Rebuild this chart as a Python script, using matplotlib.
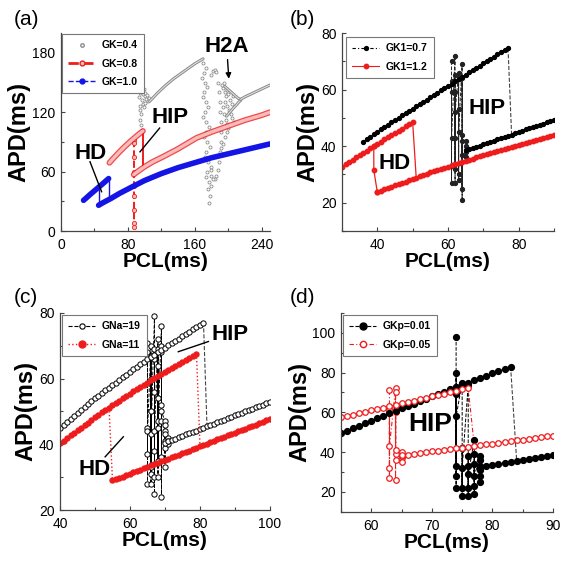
import numpy as np
import matplotlib
matplotlib.use("Agg")
import matplotlib.pyplot as plt
from matplotlib.lines import Line2D
from matplotlib.ticker import MultipleLocator
from matplotlib import font_manager

_have = {f.name for f in font_manager.fontManager.ttflist}
NARROW = 'Liberation Sans Narrow' if 'Liberation Sans Narrow' in _have else 'Liberation Sans'
plt.rcParams['font.family'] = [NARROW, 'DejaVu Sans']

RED = '#ee1c1c'
PINK = '#f6bcbc'
BLUE = '#1414e6'
GREY = '#8c8c8c'

# ---------------- (a) GK ----------------
a_gk10_up_x = [27, 30, 35, 40, 45, 50, 55, 57]
a_gk10_up_y = [31, 33.2, 37, 40.6, 44.2, 47.8, 51.5, 53]
a_gk10_lo_x = [45, 50, 60, 70, 86, 100, 120, 140, 160, 180, 200, 220, 240, 250]
a_gk10_lo_y = [26, 28.5, 33, 38, 45, 51, 58, 64, 69, 74, 78, 82, 86, 88]
a_gk10_jump1 = ([45, 45], [26, 44.2])
a_gk10_jump2 = ([57, 57], [53, 32])

a_gk08_up_x = [58, 62, 66, 70, 75, 80, 85, 90, 94, 98]
a_gk08_up_y = [69, 72.8, 76.4, 80, 84.2, 88.2, 92, 95.6, 98.4, 101]
a_gk08_lo_x = [87, 90, 95, 100, 110, 122, 140, 162, 180, 200, 220, 240, 250]
a_gk08_lo_y = [57, 59, 62, 65, 70, 75, 83, 94, 100, 106, 112, 117, 120]
a_gk08_drop = ([98, 98], [101, 64])
a_gk08_alt_x = [87, 87, 87, 87, 87, 87, 87, 87, 87]
a_gk08_alt_y = [92, 88.5, 75, 60, 45, 35, 21, 8, 4]

a_gk04_up_x = [106, 110, 115, 120, 125, 130, 135, 140, 145, 150, 155, 160, 165, 170]
a_gk04_up_y = [131, 134.5, 139, 143, 147, 150.5, 154, 157, 160, 163, 166, 169, 171.5, 174]
a_gk04_fa_x = [196, 200, 204, 208, 212, 215]
a_gk04_fa_y = [146, 143, 140, 137, 134, 133]
a_gk04_fb_x = [198, 202, 206, 210, 213, 215]
a_gk04_fb_y = [116, 120, 124, 127.5, 130.5, 132]
a_gk04_tail_x = [215, 220, 225, 230, 235, 240, 245, 250]
a_gk04_tail_y = [133, 135.5, 137.5, 139.5, 141.5, 143.5, 145.5, 147.5]
a_gk04_sc_x = [93, 94, 95, 96, 97, 98, 99, 100, 101, 102, 103, 104, 105, 94, 95, 96, 95, 96, 97, 98,
               97, 99, 100, 94, 93,
               170, 171, 172, 171, 173, 172, 174, 173, 175, 174, 176, 175, 177, 176, 178, 177, 174,
               175, 176, 177, 178, 179, 179, 173, 172, 171, 170, 170, 169,
               180, 182, 184, 186, 188, 189, 190, 190, 191, 191, 191, 190, 189, 188, 186, 184, 182,
               180, 179,
               193, 194, 195, 196, 197, 196, 198, 199, 200, 201, 202, 203, 204, 205, 206, 207, 194,
               195, 197, 199, 200, 198, 196, 194, 192]
a_gk04_sc_y = [148, 150, 145, 141, 147, 138, 143, 136, 139, 133, 137, 131, 134, 126, 122, 118, 112, 107, 102, 128,
               132, 125, 129, 139, 135,
               170, 160, 150, 140, 130, 120, 110, 100, 90, 80, 70, 60, 50, 42, 35, 28, 165,
               145, 125, 105, 85, 65, 45, 55, 75, 95, 115, 135, 155,
               158, 162, 163, 161, 150, 140, 130, 120, 110, 100, 90, 80, 70, 62, 56, 53, 53,
               56, 62,
               148, 144, 150, 140, 136, 130, 142, 126, 138, 122, 132, 118, 128, 114, 136, 110, 125,
               118, 112, 108, 104, 100, 95, 88, 84]

# ---------------- (b) GK1 ----------------
b_k07_up_x = list(range(36, 78))
b_k07_up_y = [41.5, 42.4, 43.3, 44.2, 45.0, 45.9, 46.7, 47.6, 48.4, 49.2, 50.0, 50.9, 51.7, 52.5,
              53.3, 54.1, 54.9, 55.7, 56.5, 57.3, 58.1, 58.9, 59.7, 60.5, 61.3, 62.1, 62.9, 63.7,
              64.5, 65.3, 66.1, 66.9, 67.7, 68.5, 69.3, 70.1, 70.9, 71.7, 72.5, 73.2, 73.9, 74.6]
b_k07_lo_x = list(range(65, 91))
b_k07_lo_y = [38.5, 38.9, 39.4, 39.8, 40.2, 40.7, 41.1, 41.5, 42.0, 42.4, 42.8, 43.3, 43.7,
              44.1, 44.6, 45.0, 45.4, 45.9, 46.3, 46.7, 47.2, 47.6, 48.0, 48.5, 48.9, 49.3]
b_k07_jump = ([77, 78], [74.6, 44.1])
b_k07_ch_x = [61, 61, 61, 61, 61, 61, 62, 62, 62, 62, 62, 62, 62, 63, 63, 63, 63, 63, 63,
              64, 64, 64, 64, 64, 64, 64, 65, 65, 65, 65]
b_k07_ch_y = [70, 27, 63, 33, 59, 43, 72, 27, 65, 32, 59, 43, 52, 66, 28, 64, 30, 53, 45,
              69, 21, 64, 25, 44, 37, 42, 42, 36, 40, 38]

b_k12_up_x = list(range(30, 51))
b_k12_up_y = [32.8, 33.6, 34.4, 35.2, 36.0, 36.8, 37.6, 38.4, 39.2, 40.0, 40.8, 41.6, 42.4,
              43.1, 43.9, 44.7, 45.5, 46.2, 47.0, 47.8, 48.5]
b_k12_lo_x = list(range(40, 91))
b_k12_lo_y = [23.7, 24.2, 24.7, 25.2, 25.6, 26.1, 26.6, 27.0, 27.5, 28.0, 28.4, 28.9, 29.3,
              29.8, 30.2, 30.7, 31.1, 31.5, 32.0, 32.4, 32.8, 33.2, 33.6, 34.0, 34.4, 34.8,
              35.2, 35.6, 36.0, 36.4, 36.8, 37.2, 37.6, 37.9, 38.3, 38.7, 39.0, 39.4, 39.8,
              40.1, 40.5, 40.8, 41.2, 41.5, 41.9, 42.2, 42.6, 42.9, 43.3, 43.6, 44.0]
b_k12_jump1 = ([39, 39, 40], [40.0, 31.6, 23.7])
b_k12_jump2 = ([50, 51], [48.5, 28.9])

# ---------------- (c) GNa ----------------
c_na19_up_x = list(range(40, 82))
c_na19_up_y = [45.0, 45.9, 46.8, 47.7, 48.6, 49.5, 50.4, 51.3, 52.2, 53.1, 54.0, 54.8, 55.6,
               56.4, 57.2, 58.0, 58.8, 59.6, 60.4, 61.2, 62.0, 62.8, 63.6, 64.4, 65.2, 65.9,
               66.6, 67.3, 68.0, 68.7, 69.4, 70.1, 70.8, 71.5, 72.2, 72.9, 73.6, 74.3, 75.0,
               75.7, 76.4, 77.1]
c_na19_lo_x = list(range(70, 101))
c_na19_lo_y = [40.5, 40.9, 41.3, 41.7, 42.1, 42.6, 43.0, 43.4, 43.8, 44.2, 44.6, 45.0, 45.5,
               45.9, 46.3, 46.7, 47.1, 47.5, 47.9, 48.4, 48.8, 49.2, 49.6, 50.0, 50.4, 50.8,
               51.3, 51.7, 52.1, 52.5, 52.9]
c_na19_jump = ([81, 82], [77.1, 45.5])
c_na19_ch_x = [65] * 6 + [66] * 8 + [67] * 8 + [68] * 8 + [69] * 8 + [70] * 7 + [71] * 3
c_na19_ch_y = [71, 28, 68, 37, 45, 44,
               70, 28, 67, 31, 60, 33, 50, 43,
               79, 25, 69, 30, 66, 38, 56, 44,
               72, 30, 69, 35, 64, 45, 54, 47,
               76, 24, 70, 36, 68, 47, 52, 50,
               47, 33, 46, 39, 44, 43, 41,
               42, 40, 41]

c_na11_up_x = list(range(40, 80))
c_na11_up_y = [40.3, 41.1, 41.9, 42.7, 43.5, 44.3, 45.1, 45.9, 46.6, 47.4, 48.2, 48.9, 49.7,
               50.4, 51.2, 51.9, 52.6, 53.3, 54.0, 54.7, 55.4, 56.1, 56.8, 57.5, 58.2, 58.8,
               59.5, 60.1, 60.8, 61.4, 62.1, 62.7, 63.3, 64.0, 64.6, 65.2, 65.8, 66.4, 67.0,
               67.6]
c_na11_lo_x = list(range(55, 101))
c_na11_lo_y = [29.0, 29.4, 29.8, 30.2, 30.6, 31.1, 31.5, 31.9, 32.3, 32.7, 33.1, 33.6, 34.0,
               34.4, 34.8, 35.2, 35.6, 36.1, 36.5, 36.9, 37.3, 37.7, 38.1, 38.5, 39.0, 39.4,
               39.8, 40.2, 40.6, 41.0, 41.5, 41.9, 42.3, 42.7, 43.1, 43.5, 44.0, 44.4, 44.8,
               45.2, 45.6, 46.0, 46.5, 46.9, 47.3, 47.7]
c_na11_jump1 = ([54, 55], [51.2, 29.0])
c_na11_jump2 = ([79, 80], [67.6, 39.4])

# ---------------- (d) GKp ----------------
d_p01_up_x = list(range(55, 84))
d_p01_up_y = [49.5, 50.8, 52.0, 53.3, 54.5, 55.8, 57.0, 58.3, 59.5, 60.8, 62.0, 63.2, 64.4,
              65.6, 66.8, 68.0, 69.2, 70.3, 71.5, 72.7, 73.8, 75.0, 76.1, 77.3, 78.4, 79.6,
              80.7, 81.9, 83.0]
d_p01_lo_x = list(range(78, 91))
d_p01_lo_y = [32.5, 33.0, 33.5, 34.0, 34.5, 35.0, 35.5, 36.0, 36.5, 37.0, 37.5, 38.0, 38.5]
d_p01_jump = ([83, 84], [83.0, 35.5])
d_p01_ch_x = [74] * 8 + [75] * 5 + [76] * 6 + [77] * 6 + [78] * 6
d_p01_ch_y = [98, 22, 80, 28, 73, 33, 69, 58,
              75, 18, 42, 22, 32,
              74, 18, 38, 22, 33, 29,
              46, 19, 39, 23, 34, 28,
              38, 25, 36, 28, 33, 31]

d_p05_up_x = list(range(55, 77))
d_p05_up_y = [57.5, 58.2, 58.9, 59.6, 60.3, 61.0, 61.7, 62.4, 63.1, 63.8, 64.5, 65.2, 65.9,
              66.6, 67.3, 68.0, 68.7, 69.4, 70.1, 70.8, 71.5, 72.2]
d_p05_lo_x = list(range(65, 91))
d_p05_lo_y = [38.3, 38.7, 39.1, 39.5, 39.9, 40.3, 40.7, 41.1, 41.5, 41.9, 42.3, 42.7, 43.1,
              43.5, 43.9, 44.3, 44.7, 45.1, 45.5, 45.9, 46.3, 46.7, 47.1, 47.5, 47.9, 48.3]
d_p05_jump = ([76, 77], [72.2, 43.1])
d_p05_ch_x = [63] * 6 + [64] * 8 + [65] * 4
d_p05_ch_y = [71, 27, 62, 32, 61, 43,
              72, 26, 70, 36, 63, 39, 60, 41,
              40, 37, 38, 35]


def style(ax, xlim, ylim, xmaj, ymaj):
    ax.set_xlim(*xlim)
    ax.set_ylim(*ylim)
    ax.xaxis.set_major_locator(MultipleLocator(xmaj))
    ax.xaxis.set_minor_locator(MultipleLocator(xmaj / 2))
    ax.yaxis.set_major_locator(MultipleLocator(ymaj))
    ax.yaxis.set_minor_locator(MultipleLocator(ymaj / 2))
    for s in ['top', 'right']:
        ax.spines[s].set_visible(False)
    for s in ['left', 'bottom']:
        ax.spines[s].set_color('#444444')
        ax.spines[s].set_linewidth(0.9)
    ax.tick_params(which='both', direction='in', color='#444444', width=0.8, labelsize=10)
    ax.tick_params(axis='x', pad=5)
    ax.tick_params(axis='y', pad=4)
    ax.tick_params(which='major', length=3)
    ax.tick_params(which='minor', length=2)
    ax.set_xlabel('PCL(ms)', fontsize=15, fontweight='bold', labelpad=0)
    ax.set_ylabel('APD(ms)', fontsize=17, fontweight='bold', labelpad=1)


def legend(ax, handles, pad):
    lg = ax.legend(handles=handles, loc='upper left',
                   prop={'weight': 'bold', 'size': 7.5}, fancybox=False,
                   edgecolor='#777777', framealpha=1, borderaxespad=pad,
                   handlelength=2.6, labelspacing=0.8, borderpad=0.6, handletextpad=0.6)
    lg.get_frame().set_linewidth(0.8)


def word(ax, x, y, s, size=16):
    ax.text(x, y, s, fontsize=size, fontweight='bold', ha='center', va='center', zorder=6)


fig = plt.figure(figsize=(5.72, 5.61), dpi=100)
ax_a = fig.add_axes([0.1066, 0.5882, 0.3654, 0.3529])
ax_b = fig.add_axes([0.5979, 0.5882, 0.3706, 0.3529])
ax_c = fig.add_axes([0.1049, 0.0909, 0.3671, 0.3512])
ax_d = fig.add_axes([0.5962, 0.0879, 0.3706, 0.3542])

# ---- (a)
ax = ax_a
ax.plot(a_gk04_sc_x, a_gk04_sc_y, ls='none', marker='o', ms=2.2, mfc='white', mec=GREY, mew=0.6)
for xs, ys in [(a_gk04_up_x, a_gk04_up_y), (a_gk04_fa_x, a_gk04_fa_y),
               (a_gk04_fb_x, a_gk04_fb_y), (a_gk04_tail_x, a_gk04_tail_y)]:
    ax.plot(xs, ys, color=GREY, lw=2.2, solid_capstyle='round')
    ax.plot(xs, ys, color='#e6e6e6', lw=0.7)
ax.plot(a_gk08_alt_x, a_gk08_alt_y, color=RED, ls='--', lw=1.4, marker='o', ms=3,
        mfc=PINK, mec=RED, mew=0.6)
ax.plot(*a_gk08_drop, color=RED, lw=1.4)
for xs, ys in [(a_gk08_up_x, a_gk08_up_y), (a_gk08_lo_x, a_gk08_lo_y)]:
    ax.plot(xs, ys, color=RED, lw=4.2, solid_capstyle='round', alpha=0.8)
    ax.plot(xs, ys, color=PINK, lw=2.4, solid_capstyle='round')
ax.plot(*a_gk10_jump1, color=BLUE, lw=1)
ax.plot(*a_gk10_jump2, color=BLUE, lw=1)
ax.plot(a_gk10_up_x, a_gk10_up_y, color=BLUE, lw=4, solid_capstyle='round')
ax.plot(a_gk10_lo_x, a_gk10_lo_y, color=BLUE, lw=4, solid_capstyle='round')
word(ax, 35, 78, 'HD')
ax.plot([34.7, 48.6], [70, 39.7], color='black', lw=1)
word(ax, 131, 115, 'HIP')
ax.plot([118, 94.5], [104, 80], color='black', lw=1)
word(ax, 198, 186, 'H2A')
ax.annotate('', xy=(201, 151), xytext=(199, 176),
            arrowprops=dict(arrowstyle='-|>', color='black', lw=1, mutation_scale=8))
style(ax, (0, 250), (0, 200), 80, 60)
legend(ax, [
    Line2D([], [], ls='none', marker='o', ms=2.5, mfc='white', mec=GREY, label='GK=0.4'),
    Line2D([], [], color=RED, ls='--', lw=2, marker='o', ms=3.5, mfc=PINK, mec=RED, label='GK=0.8'),
    Line2D([], [], color=BLUE, ls='--', lw=1, marker='o', ms=3.5, mfc=BLUE, mec=BLUE, label='GK=1.0'),
], 0.1)

# ---- (b)
ax = ax_b
ax.plot(b_k07_ch_x, b_k07_ch_y, color='#222222', ls='--', lw=0.7, marker='o', ms=2.8)
ax.plot(*b_k07_jump, color='#444444', ls='--', lw=0.8)
ax.plot(b_k07_up_x, b_k07_up_y, color='black', ls='--', lw=0.7, marker='o', ms=2.8)
ax.plot(b_k07_lo_x, b_k07_lo_y, color='black', ls='--', lw=0.7, marker='o', ms=2.8)
ax.plot(*b_k12_jump1, color=RED, lw=0.9, marker='o', ms=3.2)
ax.plot(*b_k12_jump2, color=RED, lw=0.9)
ax.plot(b_k12_up_x, b_k12_up_y, color=RED, lw=0.8, marker='o', ms=3.2)
ax.plot(b_k12_lo_x, b_k12_lo_y, color=RED, lw=0.8, marker='o', ms=3.2)
word(ax, 45, 34, 'HD')
word(ax, 71, 53.4, 'HIP')
style(ax, (30, 90), (10, 80), 20, 20)
legend(ax, [
    Line2D([], [], color='black', ls=(0, (3, 2, 1, 2)), lw=0.8, marker='o', ms=2.8, label='GK1=0.7'),
    Line2D([], [], color=RED, ls='-', lw=0.8, marker='o', ms=3.2, label='GK1=1.2'),
], 0.4)

# ---- (c)
ax = ax_c
ax.plot(c_na19_ch_x, c_na19_ch_y, color='black', ls='--', lw=0.7, marker='o', ms=3.8,
        mfc='white', mew=0.7)
ax.plot(*c_na19_jump, color='#444444', ls='--', lw=0.8)
ax.plot(c_na19_up_x, c_na19_up_y, color='black', ls='--', lw=0.6, marker='o', ms=3.8,
        mfc='white', mew=0.7)
ax.plot(c_na19_lo_x, c_na19_lo_y, color='black', ls='--', lw=0.6, marker='o', ms=3.8,
        mfc='white', mew=0.7)
ax.plot(*c_na11_jump1, color=RED, ls=':', lw=1)
ax.plot(*c_na11_jump2, color=RED, ls=':', lw=1)
ax.plot(c_na11_up_x, c_na11_up_y, color=RED, ls=':', lw=1, marker='o', ms=4.6, mew=0)
ax.plot(c_na11_lo_x, c_na11_lo_y, color=RED, ls=':', lw=1, marker='o', ms=4.6, mew=0)
word(ax, 88.6, 73.3, 'HIP')
ax.plot([82.4, 73.8], [71.3, 68.2], color='black', lw=1)
word(ax, 50, 32.2, 'HD')
ax.plot([52.9, 58.1], [36.2, 42.3], color='black', lw=1)
style(ax, (40, 100), (20, 80), 20, 20)
legend(ax, [
    Line2D([], [], color='black', ls='--', lw=0.8, marker='o', ms=3.8, mfc='white', mew=0.8, label='GNa=19'),
    Line2D([], [], color=RED, ls=':', lw=1, marker='o', ms=5, label='GNa=11'),
], 0.2)

# ---- (d)
ax = ax_d
ax.plot(d_p05_ch_x, d_p05_ch_y, color=RED, ls=(0, (4, 2, 1, 2)), lw=0.8, marker='o', ms=4,
        mfc='white', mec=RED, mew=0.9)
ax.plot(*d_p05_jump, color=RED, ls=(0, (4, 2, 1, 2)), lw=0.8)
ax.plot(d_p01_ch_x, d_p01_ch_y, color='black', ls='--', lw=0.7, marker='o', ms=4.2)
ax.plot(*d_p01_jump, color='#444444', ls='--', lw=0.8)
ax.plot(d_p01_up_x, d_p01_up_y, color='black', ls='--', lw=0.7, marker='o', ms=4.2)
ax.plot(d_p01_lo_x, d_p01_lo_y, color='black', ls='--', lw=0.7, marker='o', ms=4.2)
ax.plot(d_p05_up_x, d_p05_up_y, color=RED, ls=(0, (4, 2, 1, 2)), lw=0.8, marker='o', ms=4,
        mfc='white', mec=RED, mew=0.9)
ax.plot(d_p05_lo_x, d_p05_lo_y, color=RED, ls=(0, (4, 2, 1, 2)), lw=0.8, marker='o', ms=4,
        mfc='white', mec=RED, mew=0.9)
word(ax, 69.7, 54.2, 'HIP', 19)
style(ax, (55, 90), (10, 110), 10, 20)
legend(ax, [
    Line2D([], [], color='black', ls='--', lw=0.8, marker='o', ms=5, label='GKp=0.01'),
    Line2D([], [], color=RED, ls=(0, (4, 2, 1, 2)), lw=0.8, marker='o', ms=4.5, mfc='white',
           mec=RED, mew=1, label='GKp=0.05'),
], 0.2)

for lab, x, y in [('(a)', 14, 10), ('(b)', 290, 10), ('(c)', 14, 288), ('(d)', 290, 288)]:
    fig.text(x / 572, 1 - y / 561, lab, fontsize=15, ha='left', va='top',
             family=['Liberation Sans', 'DejaVu Sans'])

fig.savefig('out.png', dpi=100)
